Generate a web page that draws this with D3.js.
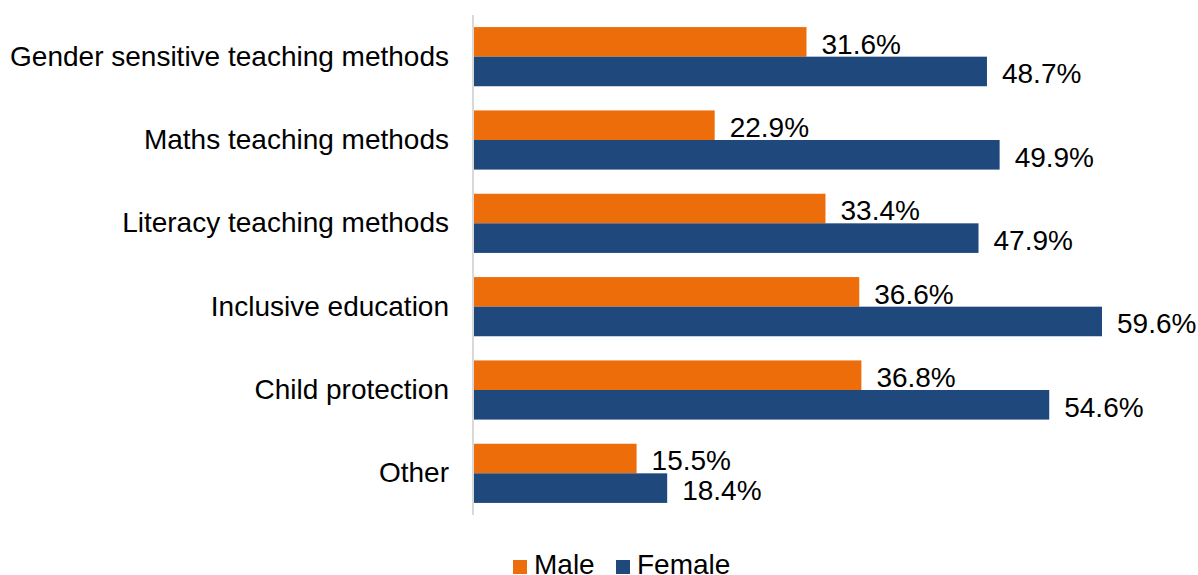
<!DOCTYPE html>
<html>
<head>
<meta charset="utf-8">
<script src="https://cdn.jsdelivr.net/npm/d3@7"></script>
<style>
  html, body { margin: 0; padding: 0; background: #fff; }
  svg { display: block; font-family: "Liberation Sans", Arial, sans-serif; }
</style>
</head>
<body>
<svg id="chart" width="1198" height="575"></svg>
<script>
// Training topics and share of respondents by sex (%)
const categories = [
  "Gender sensitive teaching methods",
  "Maths teaching methods",
  "Literacy teaching methods",
  "Inclusive education",
  "Child protection",
  "Other"
];
const seriesNames = ["Male", "Female"];
const maleValues = [31.6, 22.9, 33.4, 36.6, 36.8, 15.5];
const femaleValues = [48.7, 49.9, 47.9, 59.6, 54.6, 18.4];
const colors = { Male: "#EE6D0B", Female: "#1F497D" };

const svg = d3.select("#chart");
const plotLeft = 473, plotRight = 1102, plotTop = 15, plotBottom = 515;
const fontSize = 28;

const x = d3.scaleLinear().domain([0, 59.6]).range([plotLeft, plotRight]);
const y = d3.scaleBand().domain(categories).range([plotTop, plotBottom]).paddingInner(0.29).paddingOuter(0.145);
const sub = d3.scaleBand().domain(seriesNames).range([0, y.bandwidth()]);

const rows = categories.map((c, i) => ({ cat: c, Male: maleValues[i], Female: femaleValues[i] }));

const groups = svg.append("g").selectAll("g")
  .data(rows).join("g")
  .attr("transform", d => `translate(0,${y(d.cat)})`);

groups.selectAll("rect")
  .data(d => seriesNames.map(s => ({ s, v: d[s] })))
  .join("rect")
  .attr("x", x(0))
  .attr("y", d => sub(d.s))
  .attr("width", d => x(d.v) - x(0))
  .attr("height", sub.bandwidth())
  .attr("fill", d => colors[d.s]);

groups.selectAll("text.val")
  .data(d => seriesNames.map(s => ({ s, v: d[s] })))
  .join("text")
  .attr("class", "val")
  .attr("x", d => x(d.v) + 15)
  .attr("y", d => sub(d.s) + sub.bandwidth() / 2 + 2)
  .attr("dy", "0.35em")
  .attr("font-size", fontSize)
  .attr("fill", "#000")
  .text(d => d.v.toFixed(1) + "%");

// Category axis
const yAxis = svg.append("g")
  .attr("transform", `translate(${plotLeft},0)`)
  .call(d3.axisLeft(y).tickSize(0).tickPadding(24));
yAxis.select(".domain").attr("stroke", "#D9D9D9").attr("stroke-width", 2)
  .attr("d", `M0,${plotTop}V${plotBottom}`);
yAxis.selectAll("text")
  .attr("font-size", fontSize)
  .attr("font-family", "Liberation Sans, Arial, sans-serif")
  .attr("fill", "#000");

// Legend
const legend = svg.append("g");
const legendItems = [
  { s: "Male", x: 513 },
  { s: "Female", x: 616 }
];
legendItems.forEach(it => {
  legend.append("rect").attr("x", it.x).attr("y", 560).attr("width", 14).attr("height", 14)
    .attr("fill", colors[it.s]);
  legend.append("text").attr("x", it.x + 21).attr("y", 574)
    .attr("font-size", fontSize).attr("fill", "#000").text(it.s);
});
</script>
</body>
</html>
